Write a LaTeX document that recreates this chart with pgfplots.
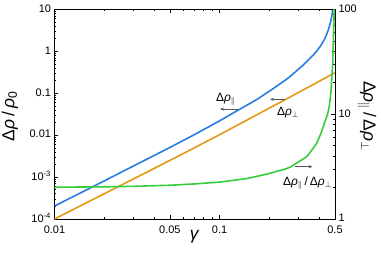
\documentclass[border=0pt]{standalone}
\usepackage{fontspec}
\setmainfont{Liberation Sans}
\usepackage{pgfplots}
\pgfplotsset{compat=1.18}
\usetikzlibrary{arrows.meta,calc}
\definecolor{cblue}{RGB}{40,125,225}
\definecolor{corange}{RGB}{228,152,20}
\definecolor{cgreen}{RGB}{55,205,60}
\definecolor{carrow}{RGB}{85,85,85}
\newcommand{\tk}{\fontsize{11}{13}\selectfont}
\newcommand{\lb}{\fontsize{17.5}{20}\selectfont}
\newcommand{\an}{\fontsize{12}{14}\selectfont}
\newcommand{\rr}{\textit{ρ}}
\begin{document}
\begin{tikzpicture}
\begin{axis}[name=ax, scale only axis, width=280.5bp, height=209.5bp,
 xmode=log, ymode=log, xmin=0.01, xmax=0.5, ymin=1e-4, ymax=10,
 xtick={0.01,0.05,0.1,0.5}, xticklabels={0.01,0.05,0.1,0.5},
 minor xtick={0.02,0.03,0.04,0.06,0.07,0.08,0.09,0.2,0.3,0.4},
 ytick={1e-4,1e-3,1e-2,1e-1,1,10},
 yticklabels={10\textsuperscript{-4},10\textsuperscript{-3},0.01,0.1,1,10},
 minor ytick={2e-4,3e-4,4e-4,5e-4,6e-4,7e-4,8e-4,9e-4,2e-3,3e-3,4e-3,5e-3,6e-3,7e-3,8e-3,9e-3,0.02,0.03,0.04,0.05,0.06,0.07,0.08,0.09,0.2,0.3,0.4,0.5,0.6,0.7,0.8,0.9,2,3,4,5,6,7,8,9},
 ytick pos=left,
 tick align=inside,
 major tick length=4bp, minor tick length=2bp,
 tick style={black, line width=0.6bp},
 axis line style={black, line width=0.8bp},
 ticklabel style={font=\tk},
 xticklabel style={yshift=-3bp},
 yticklabel style={yshift=1bp},
 xlabel={\textit{γ}}, ylabel={Δ\rr\,/\,\rr\textsubscript{0}},
 every axis x label/.style={at={(axis description cs:0.5,-0.083)},anchor=center,font=\lb},
 every axis y label/.style={at={(axis description cs:-0.159,0.49)},anchor=center,rotate=90,font=\lb},
 ]
\addplot[cblue, line width=1.6bp] coordinates {(0.01,2.04e-4)(0.02,8.1e-4)(0.03,1.83e-3)(0.05,5.1e-3)(0.07,1.02e-2)(0.1,2.2e-2)(0.13,0.040)(0.15,0.055)(0.17,0.073)(0.2,0.112)(0.25,0.2055)(0.2667,0.25)(0.3,0.375)(0.321,0.4735)(0.35,0.665)(0.3693,0.82)(0.39,1.05)(0.4055,1.29)(0.42,1.6)(0.4345,2.05)(0.445,2.55)(0.4554,3.24)(0.465,4.3)(0.4729,5.6)(0.48,7.5)(0.4842,10)(0.487,12)};
\addplot[corange, line width=1.6bp] coordinates {(0.01,1e-4)(0.02,4e-4)(0.05,2.5e-3)(0.07,4.95e-3)(0.1,1.03e-2)(0.15,0.0241)(0.2,0.0444)(0.25,0.0706)(0.3,0.1044)(0.35,0.1446)(0.4,0.192)(0.45,0.247)(0.5,0.31)};
\node[font=\an] at (axis description cs:0.611,0.573) {Δ\rr\textsubscript{$\parallel$}};
\draw[carrow, line width=0.8bp, -{Stealth[length=4bp,width=3bp]}] (axis description cs:0.655,0.525) -- (axis description cs:0.590,0.525);
\node[font=\an] at (axis description cs:0.8324,0.506) {Δ\rr\textsubscript{$\perp$}};
\draw[carrow, line width=0.8bp, -{Stealth[length=4bp,width=3bp]}] (axis description cs:0.8217,0.5714) -- (axis description cs:0.7683,0.5714);
\node[font=\an] at (axis description cs:0.902,0.172) {Δ\rr\textsubscript{$\parallel$}\,/\,Δ\rr\textsubscript{$\perp$}};
\draw[carrow, line width=0.8bp, -{Stealth[length=4bp,width=3bp]}] (axis description cs:0.857,0.2496) -- (axis description cs:0.920,0.2496);
\end{axis}
\begin{axis}[scale only axis, width=280.5bp, height=209.5bp,
 xmode=log, ymode=log, xmin=0.01, xmax=0.5, ymin=1, ymax=100,
 axis x line=none, axis y line*=right,
 ytick={1,10,100}, yticklabels={1,10,100},
 minor ytick={2,3,4,5,6,7,8,9,20,30,40,50,60,70,80,90},
 tick align=inside,
 major tick length=4bp, minor tick length=2bp,
 tick style={black, line width=0.6bp},
 axis line style={black, line width=0.8bp},
 ticklabel style={font=\tk},
 yticklabel style={yshift=1bp},
 ylabel={Δ\rr\textsubscript{$\parallel$}\,/\,Δ\rr\textsubscript{$\perp$}},
 every axis y label/.style={at={(axis description cs:1.114,0.49)},anchor=center,rotate=-90,font=\lb},
 ]
\addplot[cgreen, line width=1.6bp] coordinates {(0.01,2.01)(0.02,2.03)(0.03,2.05)(0.05,2.1)(0.07,2.16)(0.1,2.25)(0.1266,2.36)(0.15,2.45)(0.2,2.72)(0.25,3.0)(0.2667,3.12)(0.3,3.5)(0.3365,3.93)(0.36,4.5)(0.3873,5.28)(0.41,6.5)(0.4246,7.6)(0.44,9.0)(0.449,9.8)(0.46,11.5)(0.4664,13.5)(0.4729,16.5)(0.4795,24)(0.4842,30)(0.4864,40)(0.49,60)(0.4932,85)(0.496,110)};
\end{axis}
\pgfresetboundingbox
\path[use as bounding box] ($(ax.south west)+(-54.5bp,-52bp)$) rectangle ($(ax.north east)+(46bp,9.5bp)$);
\end{tikzpicture}
\end{document}
